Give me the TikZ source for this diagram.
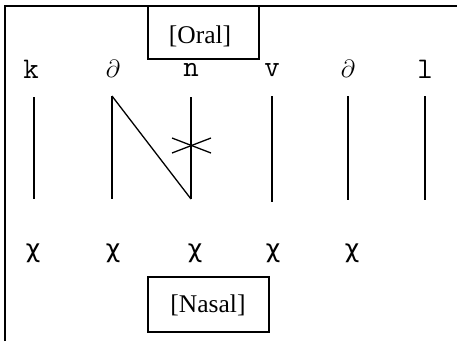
\documentclass[tikz,border=0pt]{standalone}
\usepackage{fontspec}
\setmainfont{Liberation Serif}
\newfontfamily\chifont{DejaVu Sans}
\begin{document}
\begin{tikzpicture}[x=1pt,y=-1pt,
  seg/.style={inner sep=0pt, font=\ttfamily\fontsize{30}{30}\selectfont},
  skel/.style={inner sep=0pt, font=\chifont\fontsize{25}{25}\selectfont},
  lab/.style={inner sep=0pt, font=\fontsize{25.5}{26}\selectfont},
  assoc/.style={line width=1.3pt},
  boxline/.style={line width=1.8pt}]
\useasboundingbox (0,0) rectangle (457,341);
% frame
\draw[boxline] (5,341) -- (5,6) -- (457,6);
% boxes
\draw[boxline] (148,6) rectangle (259,59);
\node[lab] (oral) at (200,36) {[Oral]};
\draw[boxline] (148,277) rectangle (269,332);
\node[lab] (nasal) at (208,305) {[Nasal]};
% segments
\node[seg] (k) at (31,69) {k};
\node[seg] (d1) at (113,69) {$\partial$};
\node[seg] (n) at (191,70) {n};
\node[seg] (v) at (272,70) {v};
\node[seg] (d2) at (348,69) {$\partial$};
\node[seg] (l) at (425,69) {l};
% skeleton
\node[skel] (x1) at (33,253) {χ};
\node[skel] (x2) at (113,253) {χ};
\node[skel] (x3) at (195,253) {χ};
\node[skel] (x4) at (273,253) {χ};
\node[skel] (x5) at (352,253) {χ};
% association lines
\coordinate (kt) at (34,97);  \coordinate (kb) at (34,199);
\coordinate (dt) at (112,96); \coordinate (db) at (112,199);
\coordinate (nt) at (191,97); \coordinate (nb) at (191,199);
\coordinate (vt) at (272,96); \coordinate (vb) at (272,202);
\coordinate (et) at (348,96); \coordinate (eb) at (348,200);
\coordinate (lt) at (425,96); \coordinate (lb) at (425,200);
\draw[assoc] (kt) -- (kb);
\draw[assoc] (dt) -- (db);
\draw[assoc] (nt) -- (nb);
\draw[assoc] (vt) -- (vb);
\draw[assoc] (et) -- (eb);
\draw[assoc] (lt) -- (lb);
\draw[assoc] (dt) -- (nb);
% delinking cross
\coordinate (c1) at (172,138); \coordinate (c2) at (211,153);
\coordinate (c3) at (172,153); \coordinate (c4) at (211,138);
\draw[assoc] (c1) -- (c2);
\draw[assoc] (c3) -- (c4);
\end{tikzpicture}
\end{document}
